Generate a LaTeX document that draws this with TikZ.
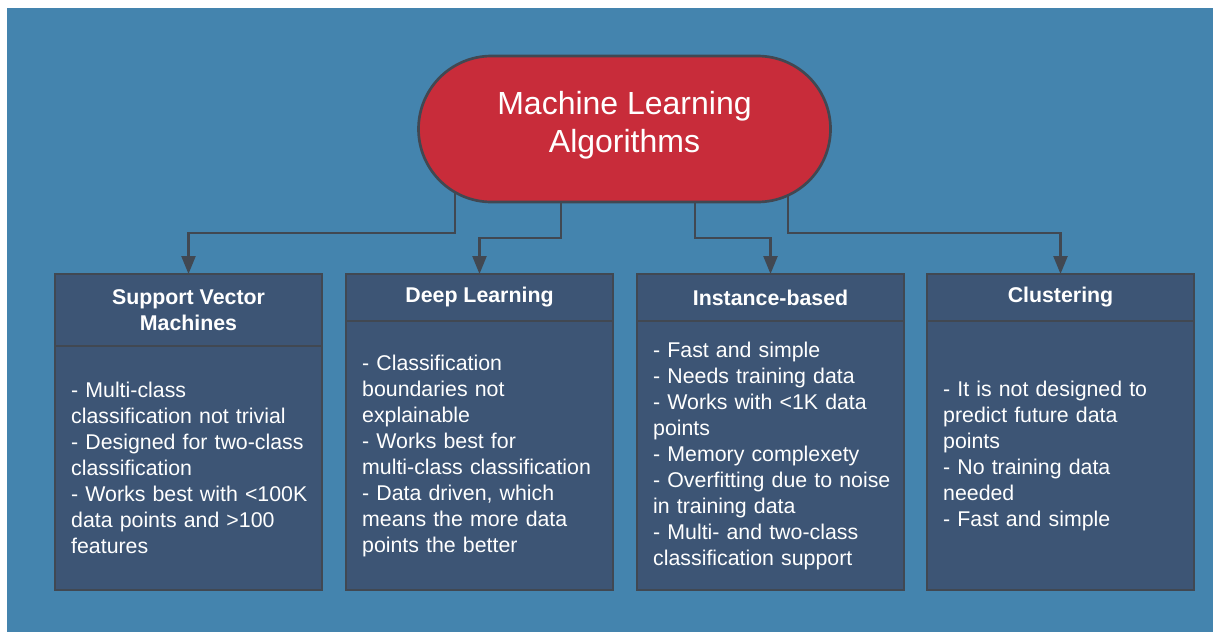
\documentclass[tikz,border=0pt]{standalone}
\usepackage{fontspec}
\setmainfont{Liberation Sans}
\usetikzlibrary{arrows.meta,shapes.misc,calc}
\definecolor{bgblue}{HTML}{4484AE}
\definecolor{boxfill}{HTML}{3D5575}
\definecolor{edgegray}{HTML}{414852}
\definecolor{titlered}{HTML}{C82C3A}
\pgfdeclarelayer{bglayer}
\pgfdeclarelayer{lines}
\pgfsetlayers{bglayer,lines,main}
\begin{document}
\begin{tikzpicture}[x=0.75pt,y=-0.75pt,
 titlebox/.style={rounded rectangle, fill=titlered, draw=edgegray, line width=2pt,
   minimum width=309pt, minimum height=109.5pt, inner sep=0pt, outer sep=0pt, text=white,
   align=center, text depth=11pt, font=\fontsize{24}{28.5}\selectfont},
 headbox/.style={rectangle, fill=boxfill, draw=edgegray, line width=2.2pt,
   minimum width=200.25pt, inner sep=0pt, outer sep=0pt, text=white, align=center,
   font=\bfseries\fontsize{16}{19.5}\selectfont, anchor=north west},
 bodybox/.style={rectangle, fill=boxfill, draw=edgegray, line width=2.2pt,
   minimum width=200.25pt, text width=176pt, inner xsep=12.1pt, inner ysep=0pt, outer sep=0pt,
   text=white, align=left, font=\fontsize{16}{19.5}\selectfont, anchor=north},
 conn/.style={draw=edgegray, line width=1.8pt, -{Triangle[width=10.5pt,length=13.5pt]}}]
\useasboundingbox (0,0) rectangle (1213,632);
\begin{pgfonlayer}{bglayer}
\fill[bgblue] (7,8) rectangle (1213,632);
\end{pgfonlayer}

\node[titlebox] (title) at (624.5,129) {Machine Learning\\Algorithms};

\node[headbox, minimum height=54pt] (svmh) at (55,274) {Support Vector\\Machines};
\node[bodybox, minimum height=183pt] (svmb) at (svmh.south) {- Multi-class\\classification not trivial\\\mbox{- Designed for two-class}\\classification\\\mbox{- Works best with <100K}\\data points and >100\\features};

\node[headbox, minimum height=35.25pt] (dlh) at (346,274) {Deep Learning};
\node[bodybox, minimum height=201.75pt] (dlb) at (dlh.south) {- Classification\\boundaries not\\explainable\\- Works best for\\\mbox{multi-class classification}\\- Data driven, which\\means the more data\\points the better};

\node[headbox, minimum height=35.25pt] (ibh) at (637,274) {Instance-based};
\node[bodybox, minimum height=201.75pt] (ibb) at (ibh.south) {- Fast and simple\\- Needs training data\\\mbox{- Works with <1K data}\\points\\- Memory complexety\\\mbox{- Overfitting due to noise}\\in training data\\\mbox{- Multi- and two-class}\\classification support};

\node[headbox, minimum height=35.25pt] (clh) at (927,274) {Clustering};
\node[bodybox, minimum height=201.75pt] (clb) at (clh.south) {- It is not designed to\\predict future data\\points\\- No training data\\needed\\- Fast and simple};

\begin{pgfonlayer}{lines}
\draw[conn] ($(title.center)+(-169.5,0)$) -- ++(0,104) -| (svmh.north);
\draw[conn] ($(title.center)+(-63.5,0)$) -- ++(0,109) -| (dlh.north);
\draw[conn] ($(title.center)+(70.5,0)$) -- ++(0,109) -| (ibh.north);
\draw[conn] ($(title.center)+(163.5,0)$) -- ++(0,104) -| (clh.north);
\end{pgfonlayer}
\end{tikzpicture}
\end{document}
